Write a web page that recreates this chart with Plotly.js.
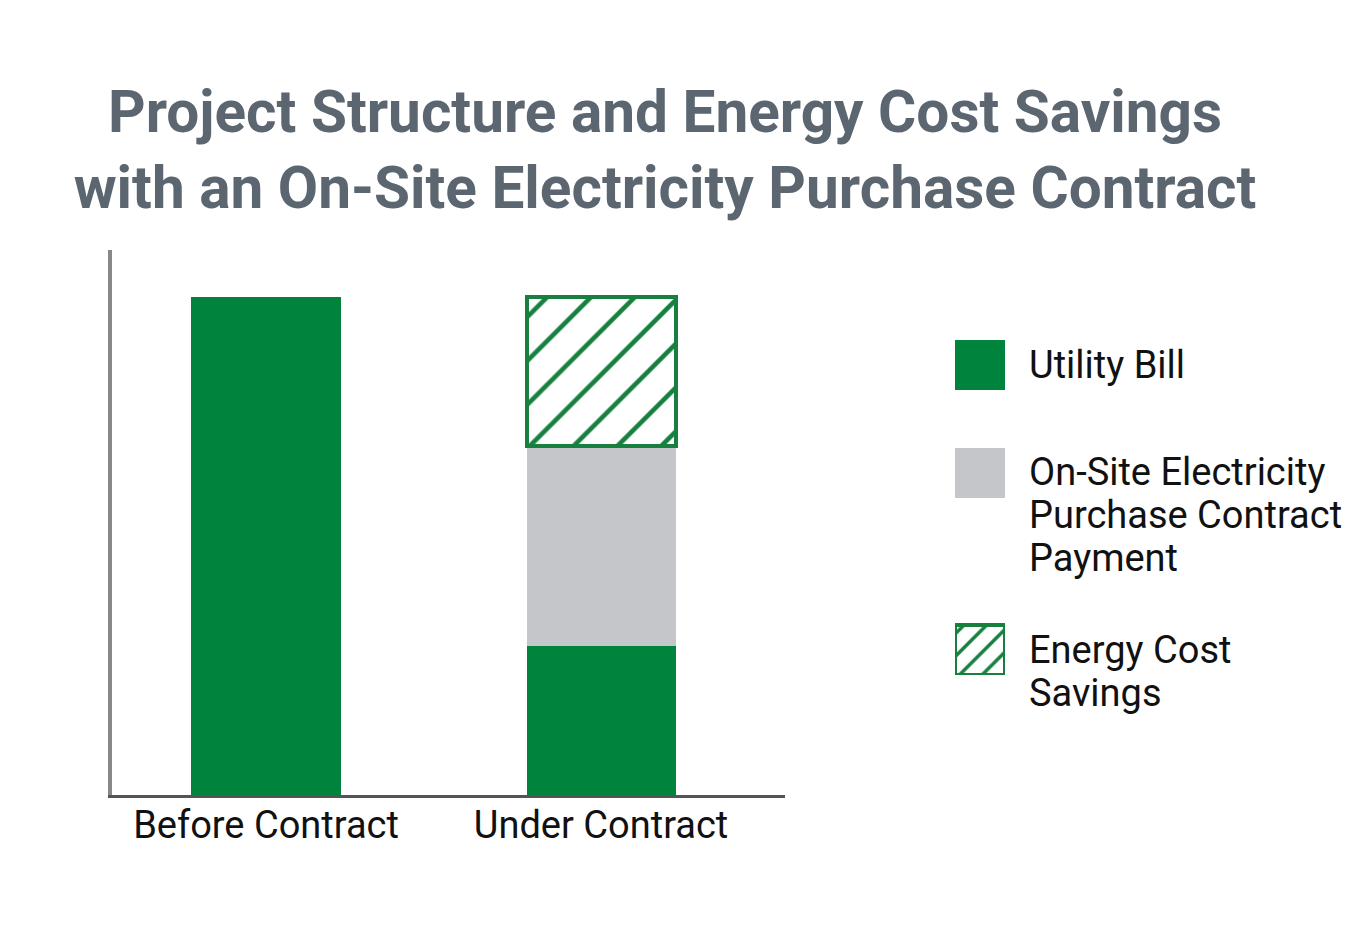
<!DOCTYPE html>
<html>
<head>
<meta charset="utf-8">
<script src="https://cdn.plot.ly/plotly-3.0.1.min.js"></script>
<style>body{margin:0;background:#fff;}</style>
</head>
<body>
<div id="chart" style="width:1350px;height:946px;"></div>
<script>
// values (before-contract bill = 100)
var categories = ["Before Contract", "Under Contract"];
var utilityBill = [100, 30];
var contractPayment = [null, 40];
var costSavings = [null, 30];
var seriesNames = ["Utility Bill", "On-Site Electricity<br>Purchase Contract<br>Payment", "Energy Cost<br>Savings"];

var green = "#00843d";
var grey = "#c4c6ca";
var hatchGreen = "#17803f";
var textFont = {family: "Roboto, Liberation Sans, sans-serif", size: 38, color: "#111"};

var savingsMarker = function(size, solidity) {
  return {
    color: "white",
    pattern: {shape: "/", fgcolor: hatchGreen, bgcolor: "white", size: size, solidity: solidity, fillmode: "replace"},
    line: {color: hatchGreen, width: 4}
  };
};

var traces = [
  {x: categories, y: utilityBill, type: "bar", name: seriesNames[0], width: 0.445,
   marker: {color: green}},
  {x: categories, y: contractPayment, type: "bar", name: seriesNames[1], width: 0.445,
   marker: {color: grey}},
  {x: categories, y: costSavings, type: "bar", name: seriesNames[2], width: 0.445,
   marker: savingsMarker(31, 0.15)}
];

// hand-made legend: one square swatch per series on its own little axis (pixel units),
// labels written line by line so the line spacing can follow the picture
var plotBottom = 795, plotHeight = 545;
var swatch = 50;
var swatchBase = [285, 177, 0];
var labelTop = [365, 472, 650];
var lineGap = 43;
var legendMarkers = [{color: green}, {color: grey}, savingsMarker(16, 0.22)];
var annotations = [];
for (var i = 0; i < seriesNames.length; i++) {
  traces.push({x: [0], y: [swatch], base: [swatchBase[i]], type: "bar", width: 1,
    xaxis: "x2", yaxis: "y2", marker: legendMarkers[i], showlegend: false, hoverinfo: "skip"});
  var lines = seriesNames[i].split("<br>");
  for (var j = 0; j < lines.length; j++) {
    annotations.push({text: lines[j], xref: "paper", yref: "paper", x: 0.7391,
      y: (plotBottom - (labelTop[i] + j * lineGap)) / plotHeight,
      xanchor: "left", yanchor: "middle", align: "left", showarrow: false, font: textFont});
  }
}

var layout = {
  width: 1350,
  height: 946,
  margin: {l: 112, r: 0, t: 250, b: 151},
  paper_bgcolor: "white",
  plot_bgcolor: "white",
  barmode: "stack",
  showlegend: false,
  title: {
    text: "Project Structure and Energy Cost Savings<br>with an On-Site Electricity Purchase Contract",
    font: {family: "Roboto, Liberation Sans, sans-serif", size: 58.5, color: "#5b6670", weight: "bold"},
    xref: "container", x: 0.4926, xanchor: "center",
    yref: "container", y: 0.86, yanchor: "top"
  },
  xaxis: {
    domain: [0, 0.5436],
    range: [-0.4597, 1.549],
    showline: true, linecolor: "#555", linewidth: 3,
    ticks: "", showgrid: false, zeroline: false, ticklabelstandoff: -6,
    tickfont: textFont, fixedrange: true
  },
  yaxis: {
    range: [0, 109.4],
    showline: true, linecolor: "#888", linewidth: 4,
    showticklabels: false, ticks: "", showgrid: false, zeroline: false, fixedrange: true
  },
  xaxis2: {domain: [0.6809, 0.7213], range: [-0.5, 0.5], visible: false, anchor: "y2"},
  yaxis2: {domain: [0.2202, 0.8349], range: [0, 335], visible: false, anchor: "x2"},
  annotations: annotations
};

Plotly.newPlot(document.getElementById("chart"), traces, layout, {displayModeBar: false, staticPlot: true});
</script>
</body>
</html>
